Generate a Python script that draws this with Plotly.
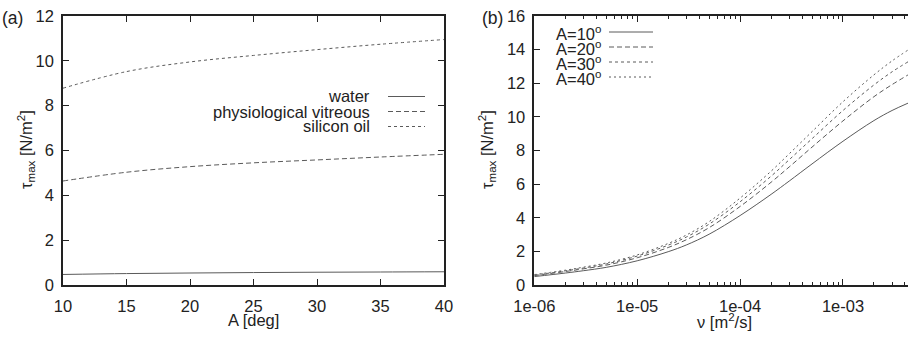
import plotly.graph_objects as go

# ---- panel (a): maximum shear stress vs. angle A ----
angle_deg = [10, 15, 20, 25, 30, 35, 40]
tau_water = [0.47, 0.51, 0.535, 0.555, 0.57, 0.58, 0.59]
tau_vitreous = [4.64, 5.03, 5.28, 5.45, 5.58, 5.71, 5.83]
tau_silicon = [8.78, 9.52, 9.95, 10.24, 10.50, 10.74, 10.95]
fluid_names = ["water", "physiological vitreous", "silicon oil"]

# ---- panel (b): maximum shear stress vs. kinematic viscosity ----
nu = [1e-6, 2e-6, 3e-6, 5e-6, 1e-5, 2e-5, 3e-5, 5e-5,
      1e-4, 2e-4, 3e-4, 5e-4, 1e-3, 2e-3, 3e-3, 4.3e-3]
tau_A10 = [0.50, 0.71, 0.85, 1.05, 1.44, 1.98, 2.38, 3.02,
           4.13, 5.39, 6.18, 7.20, 8.55, 9.78, 10.38, 10.82]
tau_A20 = [0.56, 0.80, 0.96, 1.18, 1.62, 2.23, 2.69, 3.41,
           4.67, 6.11, 7.02, 8.20, 9.76, 11.20, 11.92, 12.50]
tau_A30 = [0.59, 0.84, 1.01, 1.25, 1.72, 2.37, 2.85, 3.62,
           4.95, 6.47, 7.45, 8.70, 10.38, 11.90, 12.68, 13.28]
tau_A40 = [0.62, 0.88, 1.06, 1.31, 1.79, 2.47, 2.97, 3.77,
           5.17, 6.77, 7.80, 9.12, 10.90, 12.50, 13.33, 13.98]
angle_names = ["A=10<sup>o</sup>", "A=20<sup>o</sup>", "A=30<sup>o</sup>", "A=40<sup>o</sup>"]
nu_tickvals = [1e-6, 1e-5, 1e-4, 1e-3]
nu_ticktext = ["1e-06", "1e-05", "1e-04", "1e-03"]

W, H = 908, 338
FONT = "Liberation Sans, Arial, Helvetica, sans-serif"
TXT = "#222222"
LINE = "#5a5a5a"
FS = 16.5


def px(x):
    return x / W


def py(y):
    return 1 - y / H


dashes = ["solid", "5px,3px", "3px,3px", "2px,3px"]

fig = go.Figure()

left_series = [tau_water, tau_vitreous, tau_silicon]
for name, vals, dash in zip(fluid_names, left_series, dashes[:3]):
    fig.add_trace(go.Scatter(
        x=angle_deg, y=vals, mode="lines", name=name, showlegend=False,
        line=dict(color=LINE, width=1, dash=dash, shape="spline"),
        xaxis="x", yaxis="y"))

right_series = [tau_A10, tau_A20, tau_A30, tau_A40]
for name, vals, dash in zip(angle_names, right_series, dashes):
    fig.add_trace(go.Scatter(
        x=nu, y=vals, mode="lines", name=name, showlegend=False,
        line=dict(color=LINE, width=1, dash=dash, shape="spline"),
        xaxis="x2", yaxis="y2"))

axis_common = dict(
    showline=True, linecolor="#222222", linewidth=1.5,
    ticks="inside", ticklen=6, tickwidth=1, tickcolor="#222222",
    showgrid=False, zeroline=False, automargin=False,
    tickfont=dict(family=FONT, size=FS, color=TXT),
)

fig.update_layout(
    width=W, height=H,
    margin=dict(l=0, r=0, t=0, b=0),
    paper_bgcolor="white", plot_bgcolor="white",
    font=dict(family=FONT, size=FS, color=TXT),
    xaxis=dict(**axis_common, domain=[px(63), px(444)], range=[10, 40],
               dtick=5, tick0=10, mirror="ticks", anchor="y",
               ticklabelstandoff=5),
    yaxis=dict(**axis_common, domain=[py(285), py(16)], range=[0, 12],
               dtick=2, mirror="ticks", anchor="x", ticklabelstandoff=4),
    xaxis2=dict(**axis_common, type="log", domain=[px(534.3), 1.0],
                range=[-6, -2.368], tickvals=nu_tickvals, ticktext=nu_ticktext,
                mirror="ticks", anchor="y2", ticklabelstandoff=5,
                minor=dict(ticks="inside", ticklen=3, tickwidth=1,
                           tickcolor="#222222", dtick="D1", showgrid=False)),
    yaxis2=dict(**axis_common, domain=[py(285), py(16)], range=[0, 16],
                dtick=2, anchor="x2", ticklabelstandoff=4),
)

annotations = []
shapes = []

# panel labels
annotations.append(dict(text="(a)", x=px(0), y=py(18), xref="paper", yref="paper",
                        xanchor="left", yanchor="middle", showarrow=False,
                        font=dict(family=FONT, size=17.5, color=TXT)))
annotations.append(dict(text="(b)", x=px(480), y=py(18), xref="paper", yref="paper",
                        xanchor="left", yanchor="middle", showarrow=False,
                        font=dict(family=FONT, size=17.5, color=TXT)))

# axis titles
ytitle = "τ<sub>max</sub> [N/m<sup>2</sup>]"
annotations.append(dict(text=ytitle, x=px(26), y=py(150), xref="paper", yref="paper",
                        xanchor="center", yanchor="middle", textangle=-90,
                        showarrow=False, font=dict(family=FONT, size=FS, color=TXT)))
annotations.append(dict(text=ytitle, x=px(487), y=py(150), xref="paper", yref="paper",
                        xanchor="center", yanchor="middle", textangle=-90,
                        showarrow=False, font=dict(family=FONT, size=FS, color=TXT)))
annotations.append(dict(text="A [deg]", x=px(253.5), y=py(320), xref="paper", yref="paper",
                        xanchor="center", yanchor="middle", showarrow=False,
                        font=dict(family=FONT, size=FS, color=TXT)))
annotations.append(dict(text="ν [m<sup>2</sup>/s]", x=px(724), y=py(321), xref="paper",
                        yref="paper", xanchor="center", yanchor="middle", showarrow=False,
                        font=dict(family=FONT, size=FS, color=TXT)))

# key for panel (a): right-aligned text followed by line sample
for i, (name, dash) in enumerate(zip(fluid_names, dashes[:3])):
    yrow = 96.5 + 15 * i
    annotations.append(dict(text=name, x=px(372), y=py(yrow), xref="paper", yref="paper",
                            xanchor="right", yanchor="middle", showarrow=False,
                            font=dict(family=FONT, size=FS, color=TXT)))
    shapes.append(dict(type="line", xref="paper", yref="paper",
                       x0=px(388), x1=px(425), y0=py(yrow), y1=py(yrow),
                       line=dict(color=LINE, width=1, dash=dash)))

# key for panel (b): left-aligned text followed by line sample
for i, (name, dash) in enumerate(zip(angle_names, dashes)):
    yrow = 32 + 15 * i
    annotations.append(dict(text=name, x=px(554), y=py(yrow + 1), xref="paper", yref="paper",
                            xanchor="left", yanchor="middle", showarrow=False,
                            font=dict(family=FONT, size=FS, color=TXT)))
    shapes.append(dict(type="line", xref="paper", yref="paper",
                       x0=px(609), x1=px(653), y0=py(yrow), y1=py(yrow),
                       line=dict(color=LINE, width=1, dash=dash)))

fig.update_layout(annotations=annotations, shapes=shapes)

fig.write_html("out.html")
